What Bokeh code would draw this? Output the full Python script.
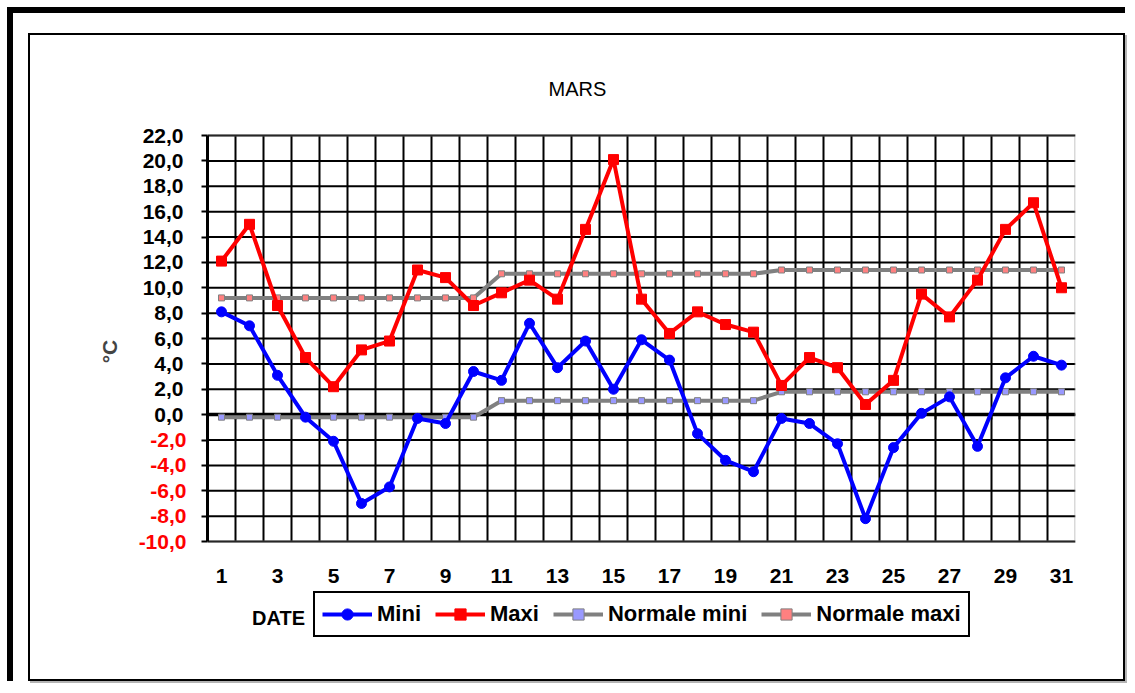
from bokeh.plotting import figure
from bokeh.layouts import column
from bokeh.models import (Range1d, FixedTicker, LinearAxis, Legend, LegendItem, Label,
                          BoxAnnotation)
from bokeh.embed import file_html
from bokeh.resources import INLINE

# ---------------- data ----------------
days = list(range(1, 32))
mini = [8.1, 7.0, 3.1, -0.2, -2.1, -7.0, -5.7, -0.3, -0.7, 3.4,
        2.7, 7.2, 3.7, 5.8, 2.0, 5.9, 4.3, -1.5, -3.6, -4.5,
        -0.3, -0.7, -2.3, -8.2, -2.6, 0.1, 1.4, -2.5, 2.9, 4.6, 3.9]
maxi = [12.1, 15.0, 8.6, 4.5, 2.2, 5.1, 5.8, 11.4, 10.8, 8.6,
        9.6, 10.6, 9.1, 14.6, 20.1, 9.1, 6.4, 8.1, 7.1, 6.5,
        2.3, 4.5, 3.7, 0.8, 2.7, 9.5, 7.7, 10.6, 14.6, 16.7, 10.0]
normale_mini = [-0.2, -0.2, -0.2, -0.2, -0.2, -0.2, -0.2, -0.2, -0.2, -0.2,
                1.1, 1.1, 1.1, 1.1, 1.1, 1.1, 1.1, 1.1, 1.1, 1.1,
                1.8, 1.8, 1.8, 1.8, 1.8, 1.8, 1.8, 1.8, 1.8, 1.8, 1.8]
normale_maxi = [9.2, 9.2, 9.2, 9.2, 9.2, 9.2, 9.2, 9.2, 9.2, 9.2,
                11.1, 11.1, 11.1, 11.1, 11.1, 11.1, 11.1, 11.1, 11.1, 11.1,
                11.4, 11.4, 11.4, 11.4, 11.4, 11.4, 11.4, 11.4, 11.4, 11.4, 11.4]
x_tick_days = [1, 3, 5, 7, 9, 11, 13, 15, 17, 19, 21, 23, 25, 27, 29, 31]
y_ticks = [-10, -8, -6, -4, -2, 0, 2, 4, 6, 8, 10, 12, 14, 16, 18, 20, 22]
title_text = "MARS"
x_label = "DATE"
y_label = "°C"
series_names = ["Mini", "Maxi", "Normale mini", "Normale maxi"]

FONT = "Liberation Sans"


def fmt(v):
    return f"{v:.1f}".replace(".", ",")


# ---------------- layout geometry (pixels) ----------------
BORDER = 2
W, H = 1097, 648                  # canvas size (border drawn over its right/bottom edge)
FL, FR, FT, FB = 177, 52, 20, 36  # frame: page x 207..1075, y 55..647
Y_LO, Y_HI = y_ticks[0], y_ticks[-1]
PPU = 406 / (Y_HI - Y_LO)         # plot area is 406 px tall
EXTRA_TOP, EXTRA_BOTTOM = 80, 106 # room for the title and the legend inside the frame
FRAME_H = H - FT - FB

p = figure(width=W, height=H,
           x_range=Range1d(days[0] - 0.5, days[-1] + 0.5),
           y_range=Range1d(Y_LO - EXTRA_BOTTOM / PPU, Y_HI + EXTRA_TOP / PPU),
           x_axis_type=None, y_axis_type=None,
           output_backend="svg", toolbar_location=None,
           min_border_left=FL, min_border_right=FR, min_border_top=FT, min_border_bottom=FB)
p.background_fill_color = "white"
p.border_fill_color = "white"
p.outline_line_color = None
p.styles = {"border": f"{BORDER}px solid black", "box-shadow": "2px 2px 0px #b4b4b4"}

# x axis labels, fixed just below the plot area
xa = LinearAxis(fixed_location=Y_LO - 27 / PPU,
                ticker=FixedTicker(ticks=x_tick_days),
                axis_line_color=None, major_tick_line_color=None, minor_tick_line_color=None,
                major_tick_out=0, major_tick_in=0, major_label_standoff=0,
                major_label_text_font=FONT, major_label_text_font_style="bold",
                major_label_text_font_size="21px", major_label_text_color="black")
p.add_layout(xa, "below")

# zero line with small ticks between the days (ticks pointing down)
za = LinearAxis(fixed_location=0,
                ticker=FixedTicker(ticks=[d + 0.5 for d in days[:-1]]),
                major_label_overrides={d + 0.5: "" for d in days[:-1]},
                major_label_text_font_size="1px", major_label_standoff=0,
                axis_line_color="black", axis_line_width=3.5,
                major_tick_line_color="black", major_tick_line_width=2,
                major_tick_out=0, major_tick_in=5,
                minor_tick_line_color=None)
za.level = "underlay"
p.add_layout(za, "above")

# inner y axis: axis line, ticks, red negative labels
ya = LinearAxis(bounds=(Y_LO, Y_HI), ticker=FixedTicker(ticks=y_ticks),
                major_label_overrides={float(t): (fmt(t) if t < 0 else "") for t in y_ticks},
                axis_line_color="black", axis_line_width=3,
                major_tick_line_color="black", major_tick_line_width=2,
                major_tick_out=6, major_tick_in=0, minor_tick_line_color=None,
                major_label_text_font=FONT, major_label_text_font_style="bold",
                major_label_text_font_size="21px", major_label_text_color="#FF0000",
                major_label_standoff=15)
p.add_layout(ya, "left")

# outer y axis: black labels pulled back onto the same column, and the axis title
yb = LinearAxis(bounds=(Y_LO, Y_HI), ticker=FixedTicker(ticks=y_ticks),
                major_label_overrides={float(t): (fmt(t) if t >= 0 else "") for t in y_ticks},
                axis_line_color=None, major_tick_line_color=None, minor_tick_line_color=None,
                major_tick_out=0, major_tick_in=0,
                major_label_standoff=-48,
                major_label_text_font=FONT, major_label_text_font_style="bold",
                major_label_text_font_size="21px", major_label_text_color="black",
                axis_label=y_label, axis_label_text_font=FONT,
                axis_label_text_font_style="bold", axis_label_text_font_size="21px",
                axis_label_standoff=19)
p.add_layout(yb, "left")

# grids
p.ygrid.visible = False
p.xgrid.visible = False
bounds_x = [d + 0.5 for d in days[:-1]]
p.segment(x0=[days[0] - 0.5] * len(y_ticks), x1=[days[-1] + 0.5] * len(y_ticks),
          y0=y_ticks, y1=y_ticks, line_color="black", line_width=2, level="underlay")
p.segment(x0=bounds_x, x1=bounds_x, y0=[Y_LO] * len(bounds_x), y1=[Y_HI] * len(bounds_x),
          line_color="black", line_width=2, level="underlay")
# grey plot-area border
p.add_layout(BoxAnnotation(left=days[0] - 0.5, right=days[-1] + 0.5, bottom=Y_LO, top=Y_HI,
                           fill_alpha=0, line_color="#808080", line_width=3, level="underlay"))

# ---------------- series ----------------
lw = 4
l_nmin = p.line(days, normale_mini, line_color="#808080", line_width=lw)
s_nmin = p.scatter(days, normale_mini, marker="square", size=6,
                   fill_color="#9999FF", line_color="#808080", line_width=1)
l_nmax = p.line(days, normale_maxi, line_color="#808080", line_width=lw)
s_nmax = p.scatter(days, normale_maxi, marker="square", size=6,
                   fill_color="#FF8080", line_color="#808080", line_width=1)
l_min = p.line(days, mini, line_color="#0000FF", line_width=lw)
s_min = p.scatter(days, mini, marker="circle", size=10,
                  fill_color="#0000FF", line_color="#0000FF")
l_max = p.line(days, maxi, line_color="#FF0000", line_width=lw)
s_max = p.scatter(days, maxi, marker="square", size=10,
                  fill_color="#FF0000", line_color="#FF0000")

# ---------------- texts and legend (inside the frame) ----------------
p.add_layout(Label(x=370, y=FRAME_H - 33, x_units="screen", y_units="screen", text=title_text,
                   text_align="center", text_baseline="middle",
                   text_font=FONT, text_font_size="20px", text_color="black"))
p.add_layout(Label(x=71, y=30, x_units="screen", y_units="screen", text=x_label,
                   text_align="center", text_baseline="middle",
                   text_font=FONT, text_font_style="bold", text_font_size="20px",
                   text_color="black"))

legend = Legend(items=[LegendItem(label=series_names[0], renderers=[l_min, s_min]),
                       LegendItem(label=series_names[1], renderers=[l_max, s_max]),
                       LegendItem(label=series_names[2], renderers=[l_nmin, s_nmin]),
                       LegendItem(label=series_names[3], renderers=[l_nmax, s_nmax])],
                orientation="horizontal", location=(106, 10))
legend.label_text_font = FONT
legend.label_text_font_style = "bold"
legend.label_text_font_size = "22px"
legend.label_text_color = "black"
legend.glyph_width = 50
legend.glyph_height = 28
legend.label_height = 28
legend.label_standoff = 5
legend.spacing = 14
legend.padding = 7
legend.margin = 0
legend.border_line_color = "black"
legend.border_line_alpha = 1
legend.border_line_width = 2
legend.background_fill_color = "white"
legend.background_fill_alpha = 1
p.add_layout(legend)

page = column(p, styles={"margin-left": "7px", "margin-top": "7px",
                         "border-top": "6px solid black", "border-left": "6px solid black",
                         "padding-left": "15px", "padding-top": "20px"})

open("out.html", "w").write(file_html(page, INLINE))
